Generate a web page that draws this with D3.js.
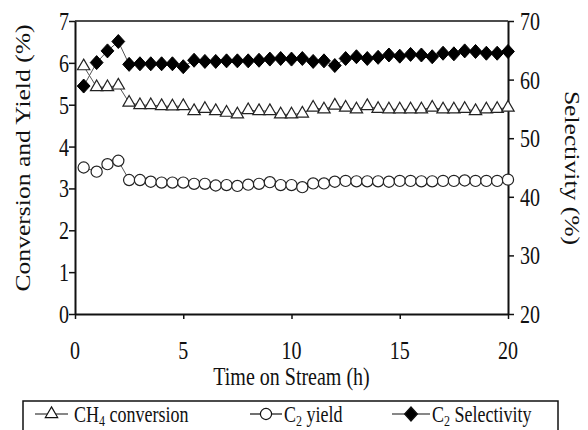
<!DOCTYPE html>
<html><head><meta charset="utf-8">
<script src="https://cdn.jsdelivr.net/npm/d3@7"></script>
<style>body{margin:0;background:#fff}svg{display:block}text{font-family:"Liberation Serif","Times New Roman",serif;fill:#111}</style>
</head><body>
<svg id="c" width="588" height="430"></svg>
<script>
const times = [0.4,1.0,1.5,2.0,2.5,3.0,3.5,4.0,4.5,5.0,5.5,6.0,6.5,7.0,7.5,8.0,8.5,9.0,9.5,10.0,10.5,11.0,11.5,12.0,12.5,13.0,13.5,14.0,14.5,15.0,15.5,16.0,16.5,17.0,17.5,18.0,18.5,19.0,19.5,20.0];
const ch4Conversion = [5.92,5.42,5.42,5.46,5.05,4.99,4.99,4.97,4.96,4.97,4.85,4.90,4.85,4.81,4.77,4.87,4.85,4.85,4.77,4.77,4.79,4.93,4.89,4.98,4.93,4.89,4.97,4.90,4.89,4.89,4.89,4.89,4.93,4.89,4.89,4.90,4.85,4.89,4.90,4.93];
const c2Yield = [3.50,3.40,3.58,3.66,3.20,3.20,3.16,3.14,3.14,3.14,3.11,3.11,3.07,3.08,3.06,3.09,3.11,3.15,3.08,3.08,3.03,3.12,3.12,3.16,3.18,3.17,3.17,3.17,3.16,3.18,3.18,3.17,3.17,3.18,3.18,3.19,3.18,3.18,3.18,3.21];
const c2Selectivity = [58.9,62.9,64.9,66.5,62.6,62.7,62.7,62.7,62.7,62.2,63.3,63.1,63.1,63.2,63.2,63.2,63.3,63.5,63.6,63.5,63.6,63.1,63.2,62.4,63.6,63.9,63.6,63.8,64.2,64.0,64.3,64.2,63.9,64.5,64.4,64.9,64.8,64.5,64.5,64.8];
const xTicks = [0,5,10,15,20];
const yLeftTicks = [0,1,2,3,4,5,6,7];
const yRightTicks = [20,30,40,50,60,70];

const svg = d3.select("#c");
const L = 75, R = 508, T = 21, B = 314;
const SY = 1.28; // vertical stretch of the text in the reference
const x = d3.scaleLinear().domain([0,20]).range([L,R]);
const yL = d3.scaleLinear().domain([0,7]).range([B,T]);
const yR = d3.scaleLinear().domain([20,70]).range([B,T]);

function label(cx, cy, txt, anchor, size, rot){
  return svg.append("text")
    .attr("transform",`translate(${cx},${cy}) scale(1,${SY})` + (rot?` rotate(${rot})`:""))
    .attr("text-anchor",anchor).attr("dy","0.35em").attr("font-size",size).text(txt);
}

// frame top
svg.append("line").attr("x1",L).attr("x2",R).attr("y1",T).attr("y2",T).attr("stroke","#111").attr("stroke-width",1.5);

const gx = svg.append("g").attr("transform",`translate(0,${B})`)
  .call(d3.axisBottom(x).tickValues(xTicks).tickSize(5).tickFormat("").tickSizeOuter(0));
const gl = svg.append("g").attr("transform",`translate(${L},0)`)
  .call(d3.axisLeft(yL).tickValues(yLeftTicks).tickSize(6).tickFormat("").tickSizeOuter(0));
const gr = svg.append("g").attr("transform",`translate(${R},0)`)
  .call(d3.axisRight(yR).tickValues(yRightTicks).tickSize(6).tickFormat("").tickSizeOuter(0));
[gx,gl,gr].forEach(g=>{
  g.selectAll("path.domain").attr("stroke","#111").attr("stroke-width",2);
  g.selectAll(".tick line").attr("stroke","#111").attr("stroke-width",1.5);
});
const fs = 20;
xTicks.forEach(v=>label(x(v), 350, String(v), "middle", fs));
yLeftTicks.forEach(v=>label(69, yL(v), String(v), "end", fs));
yRightTicks.forEach(v=>label(520, yR(v), String(v), "start", fs));

// titles
svg.append("text").attr("transform",`translate(${(L+R)/2},376) scale(1,${SY})`).attr("dy","0.35em").attr("text-anchor","middle").attr("font-size",fs).text("Time on Stream (h)");
svg.append("text").attr("transform",`translate(23,158) scale(1,${SY}) rotate(-90)`).attr("dy","0.35em").attr("text-anchor","middle").attr("font-size",fs).text("Conversion and Yield (%)");
svg.append("text").attr("transform",`translate(572,168) scale(1,${SY}) rotate(90)`).attr("dy","0.35em").attr("text-anchor","middle").attr("font-size",fs).text("Selectivity (%)");

// lines
const lineGen = (ys, sc) => d3.line().x((d,i)=>x(times[i])).y((d,i)=>sc(ys[i]))(times);
svg.append("path").attr("d",lineGen(ch4Conversion,yL)).attr("fill","none").attr("stroke","#555").attr("stroke-width",1);
svg.append("path").attr("d",lineGen(c2Yield,yL)).attr("fill","none").attr("stroke","#555").attr("stroke-width",1);
svg.append("path").attr("d",lineGen(c2Selectivity,yR)).attr("fill","none").attr("stroke","#555").attr("stroke-width",1);

const diamondType = {draw(ctx,size){const w=6.4,h=7;ctx.moveTo(0,-h);ctx.lineTo(w,0);ctx.lineTo(0,h);ctx.lineTo(-w,0);ctx.closePath();}};
const tri = d3.symbol().type(d3.symbolTriangle).size(66);
const circ = d3.symbol().type(d3.symbolCircle).size(98);
const dia = d3.symbol().type(diamondType);

svg.append("g").selectAll("path").data(times).join("path")
  .attr("transform",(d,i)=>`translate(${x(d)},${yL(ch4Conversion[i])})`)
  .attr("d",tri).attr("fill","#fff").attr("stroke","#222").attr("stroke-width",1.2);
svg.append("g").selectAll("path").data(times).join("path")
  .attr("transform",(d,i)=>`translate(${x(d)},${yL(c2Yield[i])})`)
  .attr("d",circ).attr("fill","#fff").attr("stroke","#222").attr("stroke-width",1.2);
svg.append("g").selectAll("path").data(times).join("path")
  .attr("transform",(d,i)=>`translate(${x(d)},${yR(c2Selectivity[i])})`)
  .attr("d",dia).attr("fill","#000").attr("stroke","#000");

// legend
const lg = svg.append("g");
lg.append("rect").attr("x",23).attr("y",401).attr("width",535).attr("height",40).attr("fill","#fff").attr("stroke","#111").attr("stroke-width",1.5);
const ly = 414;
const items = [
  {x0:35,x1:68,sym:tri,fill:"#fff",tx:74,parts:[["CH",0],["4",1],[" conversion",0]]},
  {x0:250,x1:282,sym:circ,fill:"#fff",tx:284,parts:[["C",0],["2",1],[" yield",0]]},
  {x0:392,x1:430,sym:dia,fill:"#000",tx:432,parts:[["C",0],["2",1],[" Selectivity",0]]}
];
items.forEach(it=>{
  lg.append("line").attr("x1",it.x0).attr("x2",it.x1).attr("y1",ly).attr("y2",ly).attr("stroke","#111").attr("stroke-width",1.2);
  lg.append("path").attr("transform",`translate(${(it.x0+it.x1)/2},${ly})`).attr("d",it.sym).attr("fill",it.fill).attr("stroke","#111").attr("stroke-width",1.2);
  const t = lg.append("text").attr("transform",`translate(${it.tx},${ly}) scale(1,${SY})`).attr("dy","0.35em").attr("font-size",18);
  it.parts.forEach(([s,sub])=>{
    if(sub){ t.append("tspan").attr("font-size",12).attr("dy",3).text(s); }
    else { const ts=t.append("tspan").text(s); if(s.startsWith(" ")) ts.attr("dy",-3); }
  });
});
</script>
</body></html>
